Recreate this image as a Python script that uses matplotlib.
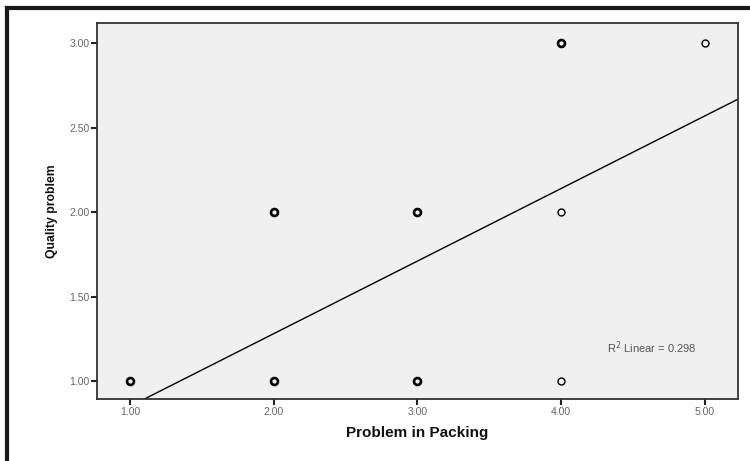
import matplotlib
matplotlib.use("Agg")
import matplotlib.pyplot as plt
from matplotlib.lines import Line2D
import numpy as np

plt.rcParams["font.family"] = ["Liberation Sans", "DejaVu Sans"]

# Observed points (Problem in Packing, Quality problem) and how many cases overlap
packing = [1, 2, 2, 3, 3, 4, 4, 4, 5]
quality = [1, 1, 2, 1, 2, 1, 2, 3, 3]
counts = [2, 2, 2, 3, 3, 1, 1, 3, 1]

# Fit line
intercept = 0.42
slope = 0.43
r2_text = "R$^2$ Linear = 0.298"

x_ticks = [1.0, 2.0, 3.0, 4.0, 5.0]
y_ticks = [1.0, 1.5, 2.0, 2.5, 3.0]

fig = plt.figure(figsize=(7.5, 4.61), dpi=100)
ax = fig.add_axes([0.1293, 0.1345, 0.8547, 0.8156])
ax.set_facecolor("#f0f0f0")

for x, y, n in zip(packing, quality, counts):
    ax.plot(x, y, "o", markersize=5, markerfacecolor="none",
            markeredgecolor="black", markeredgewidth=1.9 if n > 1 else 1.0,
            zorder=3)

xs = np.array([0.77, 5.23])
ax.plot(xs, intercept + slope * xs, color="black", linewidth=1.0, zorder=2)

ax.set_xlim(0.77, 5.23)
ax.set_ylim(0.893, 3.12)
ax.set_xticks(x_ticks)
ax.set_yticks(y_ticks)
ax.set_xticklabels([f"{v:.2f}" for v in x_ticks])
ax.set_yticklabels([f"{v:.2f}" for v in y_ticks])
ax.tick_params(labelsize=7.5, labelcolor="#666666", length=4, width=1.5,
               direction="out", pad=1.5, color="#222222")

for s in ax.spines.values():
    s.set_linewidth(1.3)
    s.set_color("#333333")

ax.set_xlabel("Problem in Packing", fontsize=11, fontweight="bold", labelpad=7,
              color="#111111")
ax.set_ylabel("Quality problem", fontsize=8.8, fontweight="bold", labelpad=8,
              color="#111111")

ax.text(4.32, 1.196, r2_text, fontsize=8, color="#555555", va="center")

# outer black frame (left and top)
fig.add_artist(Line2D([0.0087, 0.0087], [0, 0.9816], color="#1a1a1a",
                      linewidth=3, transform=fig.transFigure))
fig.add_artist(Line2D([0.0087, 1], [0.9816, 0.9816], color="#1a1a1a",
                      linewidth=3, transform=fig.transFigure))

fig.savefig("out.png", dpi=100)
